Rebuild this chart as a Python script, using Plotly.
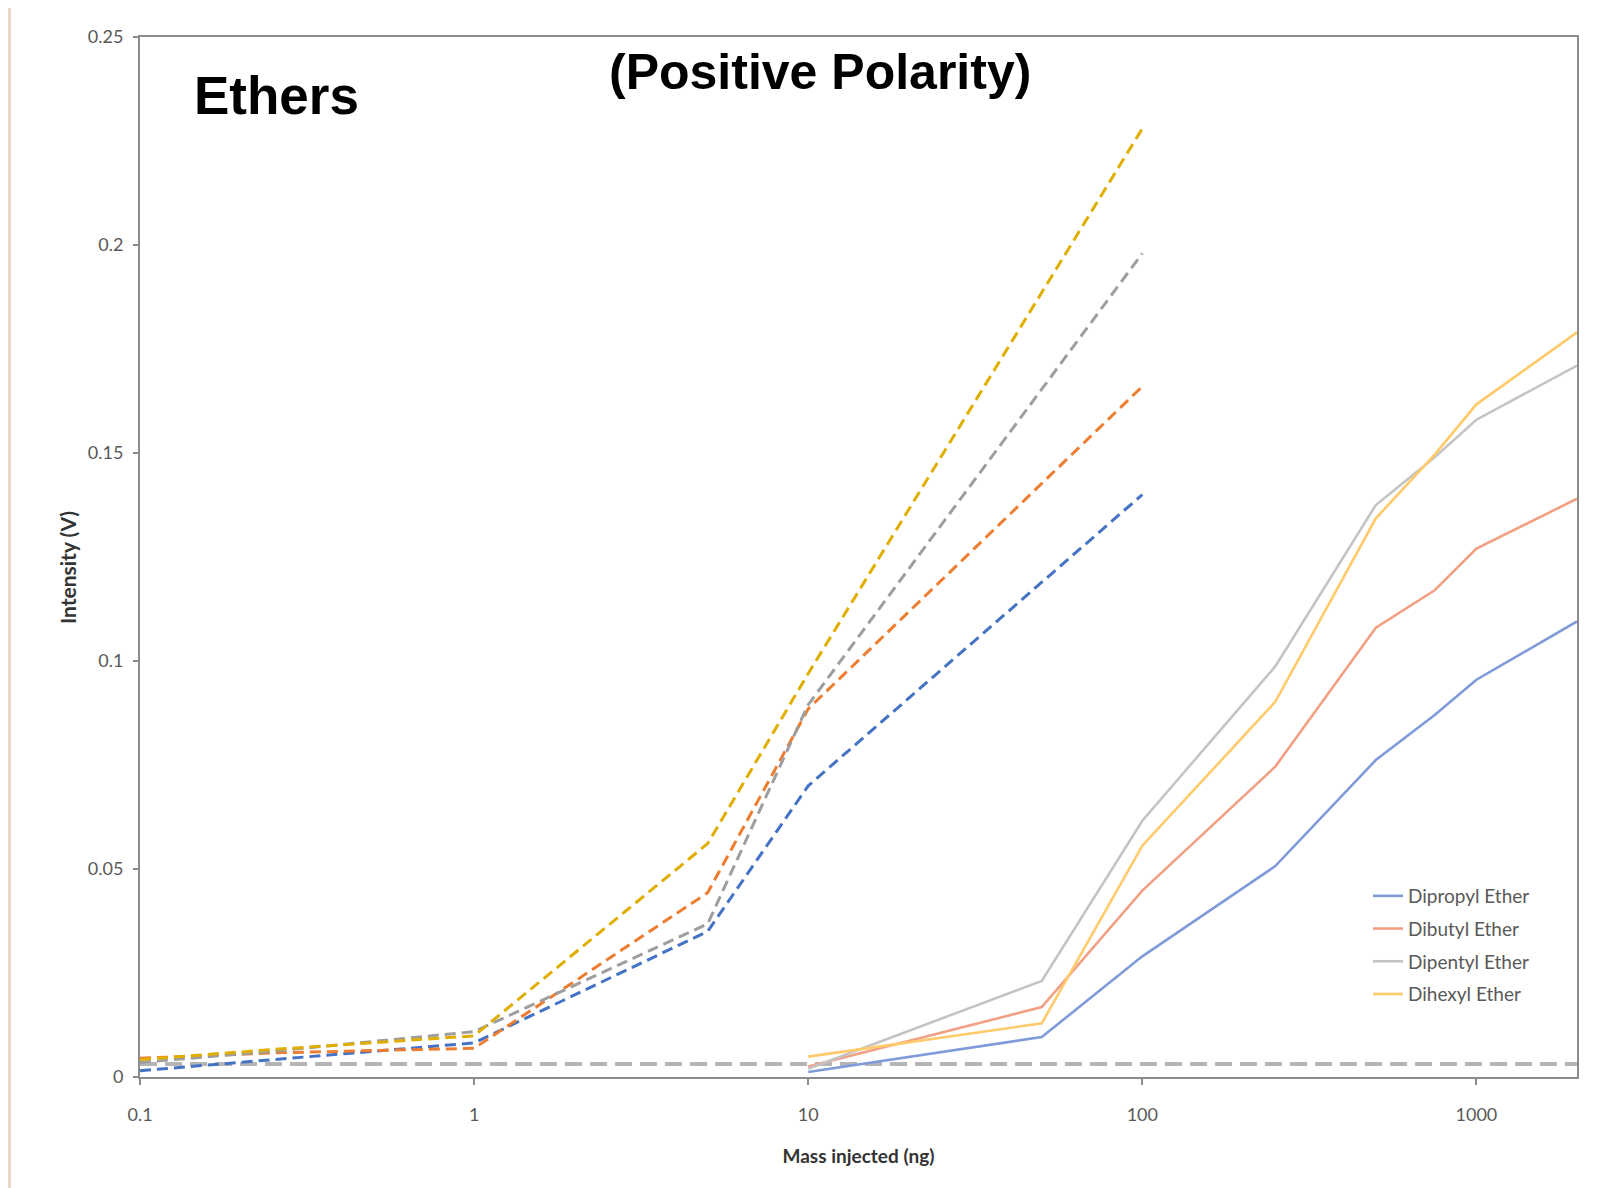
import plotly.graph_objects as go

# ---- data ----
dash_x = [0.1, 0.25, 1, 5, 10, 100]
dash_dipropyl = [0.0015, 0.0042, 0.0082, 0.0350, 0.0700, 0.1400]
dash_dibutyl = [0.0045, 0.0058, 0.0069, 0.0443, 0.0885, 0.1660]
dash_dipentyl = [0.0035, 0.0062, 0.0109, 0.0368, 0.0895, 0.1980]
dash_dihexyl = [0.0042, 0.0066, 0.0099, 0.0561, 0.0970, 0.2280]

solid_x = [10, 50, 100, 250, 500, 750, 1000, 2000]
solid_dipropyl = [0.0012, 0.0096, 0.0290, 0.0507, 0.0762, 0.0870, 0.0955, 0.1095]
solid_dibutyl = [0.0025, 0.0168, 0.0448, 0.0746, 0.1080, 0.1170, 0.1270, 0.1390]
solid_dipentyl = [0.0020, 0.0231, 0.0616, 0.0987, 0.1375, 0.1490, 0.1580, 0.1710]
solid_dihexyl = [0.0049, 0.0129, 0.0556, 0.0902, 0.1343, 0.1496, 0.1617, 0.1790]

series_names = ["Dipropyl Ether", "Dibutyl Ether", "Dipentyl Ether", "Dihexyl Ether"]
lod_value = 0.0031

x_tickvals = [0.1, 1, 10, 100, 1000]
x_ticktext = ["0.1", "1", "10", "100", "1000"]
y_tickvals = [0, 0.05, 0.1, 0.15, 0.2, 0.25]
y_ticktext = ["0", "0.05", "0.1", "0.15", "0.2", "0.25"]

# ---- styles ----
dash_colors = ["#4472C4", "#ED7D31", "#9E9E9E", "#E0AE00"]
solid_colors = ["#7F9BDA", "#F2A084", "#C4C4C4", "#FFCA6A"]

# plot area in page pixels (page has an 8px body margin)
PL, PR, PT, PB = 140, 1577, 37, 1077
OFF = 8
W, H = 1613, 1188
PW, PH = PR - PL, PB - PT

fig = go.Figure()

dash_series = [dash_dipropyl, dash_dibutyl, dash_dipentyl, dash_dihexyl]
solid_series = [solid_dipropyl, solid_dibutyl, solid_dipentyl, solid_dihexyl]

for name, ys, col in zip(series_names, dash_series, dash_colors):
    fig.add_trace(go.Scatter(
        x=dash_x, y=ys, mode="lines", name=name + " (dashed)",
        line=dict(color=col, width=3, dash="11px,6px"),
        showlegend=False, hoverinfo="x+y"))

for i, (name, ys, col) in enumerate(zip(series_names, solid_series, solid_colors)):
    fig.add_trace(go.Scatter(
        x=solid_x, y=ys, mode="lines", name=name, legendgroup="g%d" % i,
        line=dict(color=col, width=2.6)))

# LOD line
fig.add_shape(type="line", xref="paper", yref="y", x0=0, x1=1,
              y0=lod_value, y1=lod_value,
              line=dict(color="#B5B5B5", width=4, dash="17px,8px"),
              layer="below")

# left edge strip
fig.add_shape(type="rect", xref="paper", yref="paper",
              x0=(OFF - PL) / PW, x1=(OFF + 3 - PL) / PW,
              y0=(PB - (H + OFF)) / PH, y1=(PB - OFF) / PH,
              fillcolor="#E8D9C6", line=dict(width=0))

fig.add_annotation(text="<b>Ethers</b>", xref="paper", yref="paper",
                   x=(192 - PL) / PW, y=(PB - 95) / PH,
                   xanchor="left", yanchor="middle", showarrow=False,
                   font=dict(family="Liberation Sans, Arial", size=53, color="#000000"))
fig.add_annotation(text="<b>(Positive Polarity)</b>", xref="paper", yref="paper",
                   x=(820 - PL) / PW, y=(PB - 72) / PH,
                   xanchor="center", yanchor="middle", showarrow=False,
                   font=dict(family="Liberation Sans, Arial", size=50, color="#000000"))
# y-axis title
fig.add_annotation(text="<b>Intensity (V)</b>", xref="paper", yref="paper",
                   x=(67 - PL) / PW, y=(PB - 568) / PH, textangle=-90,
                   xanchor="center", yanchor="middle", showarrow=False,
                   font=dict(family="Lato, Liberation Sans", size=21, color="#333333"))

axis_col = "#8C8C8C"
tick_font = dict(family="Lato, Liberation Sans", size=18, color="#595959")

fig.update_xaxes(
    type="log", range=[-1, 3.30103],
    tickvals=x_tickvals, ticktext=x_ticktext,
    showgrid=False, zeroline=False,
    showline=True, linecolor=axis_col, linewidth=2, mirror=True,
    ticks="outside", ticklen=6, tickcolor=axis_col, tickwidth=1.5,
    tickfont=tick_font, ticklabelstandoff=14,
    title=dict(text="<b>Mass injected (ng)</b>", standoff=26,
               font=dict(family="Lato, Liberation Sans", size=19, color="#333333")),
)
fig.update_yaxes(
    range=[0, 0.25],
    tickvals=y_tickvals, ticktext=y_ticktext,
    showgrid=False, zeroline=False,
    showline=True, linecolor=axis_col, linewidth=2, mirror=True,
    ticks="outside", ticklen=5, tickcolor=axis_col, tickwidth=1.5,
    tickfont=tick_font, ticklabelstandoff=6,
)

fig.update_layout(
    width=W, height=H,
    margin=dict(l=PL - OFF, r=W + OFF - PR, t=PT - OFF, b=H + OFF - PB),
    paper_bgcolor="#FFFFFF", plot_bgcolor="#FFFFFF",
    showlegend=True,
    legend=dict(x=(1368 - PL) / PW, y=(PB - 877) / PH,
                xanchor="left", yanchor="top", tracegroupgap=5,
                bgcolor="rgba(0,0,0,0)",
                font=dict(family="Lato, Liberation Sans", size=19, color="#595959")),
)

fig.write_html("out.html")
